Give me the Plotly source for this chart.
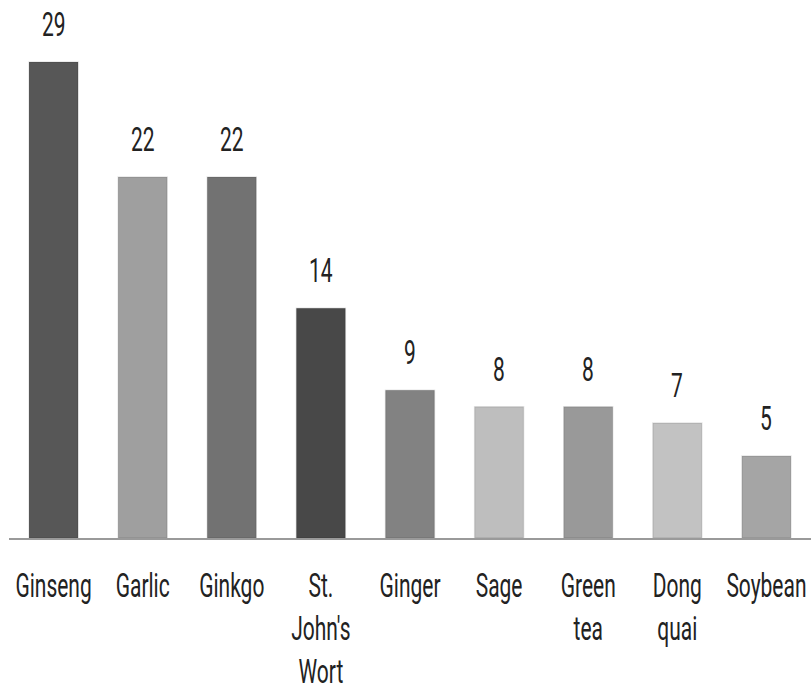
import plotly.graph_objects as go

# Herbal supplements and the number of reports for each
herbs = ["Ginseng", "Garlic", "Ginkgo", "St.<br>John's<br>Wort", "Ginger",
         "Sage", "Green<br>tea", "Dong<br>quai", "Soybean"]
counts = [29, 22, 22, 14, 9, 8, 8, 7, 5]
shades = ["#575757", "#9f9f9f", "#727272", "#484848", "#828282",
          "#bebebe", "#999999", "#c2c2c2", "#a5a5a5"]

FONT = "Roboto, sans-serif"
INK = "#222222"
SIZE = 21
TALL = 1.58  # vertical stretch applied to the lettering after drawing

fig = go.Figure(
    go.Bar(
        x=herbs,
        y=counts,
        marker=dict(color=shades, line=dict(color="rgba(0,0,0,0.10)", width=1.5)),
        hoverinfo="skip",
    )
)

# value labels above each bar
for herb, n in zip(herbs, counts):
    fig.add_annotation(
        x=herb, y=n, text=str(n), showarrow=False,
        yanchor="bottom", yshift=19,
        font=dict(family=FONT, size=SIZE, color=INK),
    )

fig.update_layout(
    width=811, height=691,
    margin=dict(l=9, r=0, t=0, b=153),
    paper_bgcolor="white", plot_bgcolor="white",
    bargap=0.45,
    showlegend=False,
    font=dict(family=FONT, size=SIZE, color=INK),
)
fig.update_xaxes(
    showline=True, linecolor="#9a9a9a", linewidth=2,
    ticks="outside", ticklen=32, tickcolor="rgba(0,0,0,0)",
    tickfont=dict(family=FONT, size=SIZE, color=INK),
    showgrid=False,
)
fig.update_yaxes(
    range=[0, 32.78], visible=False, showgrid=False, zeroline=False,
)

# stretch tick labels and value labels vertically about their first baseline
stretch_js = """
var gd = document.getElementById('{plot_id}');
var S = %s;
gd.querySelectorAll('.xtick text, text.annotation-text').forEach(function (t) {
    var y = parseFloat(t.getAttribute('y')) || 0;
    var tr = t.getAttribute('transform') || '';
    t.setAttribute('transform', tr + ' translate(0,' + y + ') scale(1,' + S + ') translate(0,' + (-y) + ')');
});
""" % TALL

fig.write_html("out.html", post_script=stretch_js)
